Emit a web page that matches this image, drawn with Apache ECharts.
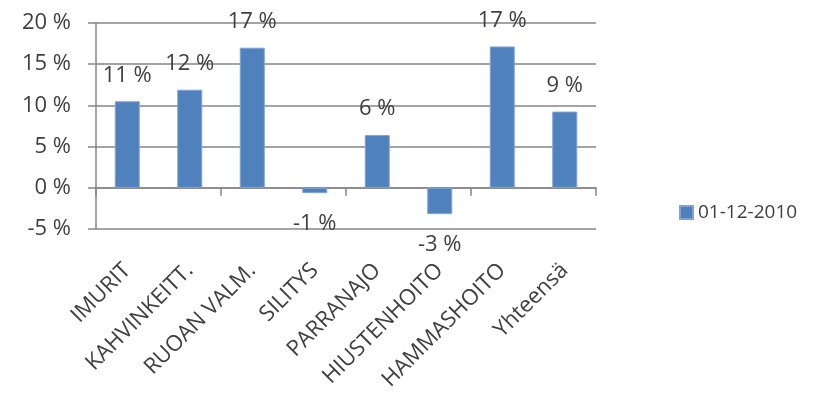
<!DOCTYPE html>
<html><head><meta charset="utf-8">
<script src="https://cdn.jsdelivr.net/npm/echarts@6/dist/echarts.min.js"></script>
<style>html,body{margin:0;padding:0;background:#fff}#c{width:813px;height:400px}</style>
</head><body><div id="c"></div>
<script>
var categories = ['IMURIT','KAHVINKEITT.','RUOAN VALM.','SILITYS','PARRANAJO','HIUSTENHOITO','HAMMASHOITO','Yhteensä'];
var values = [10.5, 11.9, 17.0, -0.65, 6.4, -3.2, 17.15, 9.25];
var seriesName = '01-12-2010';
var yTicks = [-5, 0, 5, 10, 15, 20];

var font = '"Open Sans", sans-serif';
var chart = echarts.init(document.getElementById('c'));
var data = values.map(function(v){
  return {value: v, label: {position: v < 0 ? 'bottom' : 'top', distance: v < 0 ? 20 : 15}};
});
chart.setOption({
  animation: false,
  textStyle: {fontFamily: font},
  grid: {left: 96, right: 217, top: 23, bottom: 171},
  legend: {
    data: [seriesName], left: 674, top: 198, orient: 'vertical', padding: 5,
    icon: 'rect', itemWidth: 13, itemHeight: 13, itemGap: 6,
    textStyle: {fontSize: 19, color: '#404040', fontFamily: font}
  },
  xAxis: [{
    type: 'category', data: categories, position: 'bottom',
    axisLine: {onZero: false, show: false}, axisTick: {show: false},
    axisLabel: {rotate: 45, fontSize: 22, color: '#404040', margin: 38, interval: 0, fontFamily: font}
  }, {
    type: 'category', data: categories, position: 'bottom',
    axisLine: {onZero: true, show: true, lineStyle: {color: '#868686', width: 1.5}},
    axisTick: {show: true, length: 8, inside: false, lineStyle: {color: '#868686', width: 1.5}},
    axisLabel: {show: false}
  }],
  yAxis: {
    type: 'value', min: yTicks[0], max: yTicks[yTicks.length-1], interval: 5,
    axisLine: {show: true, lineStyle: {color: '#868686', width: 1.5}},
    axisTick: {show: true, length: 8, inside: false, lineStyle: {color: '#868686', width: 1.5}},
    axisLabel: {formatter: '{value} %', fontSize: 22, color: '#404040', margin: 25, fontFamily: font},
    splitLine: {lineStyle: {color: '#868686', width: 1.5}}
  },
  series: [{
    name: seriesName, type: 'bar', xAxisIndex: 1, data: data, barWidth: '40%',
    itemStyle: {color: '#4f81bd', borderColor: '#7ea3d6', borderWidth: 1},
    label: {show: true, fontSize: 22, color: '#404040', fontFamily: font,
      formatter: function(p){ return Math.round(p.value) + ' %'; }}
  }]
});
</script></body></html>
